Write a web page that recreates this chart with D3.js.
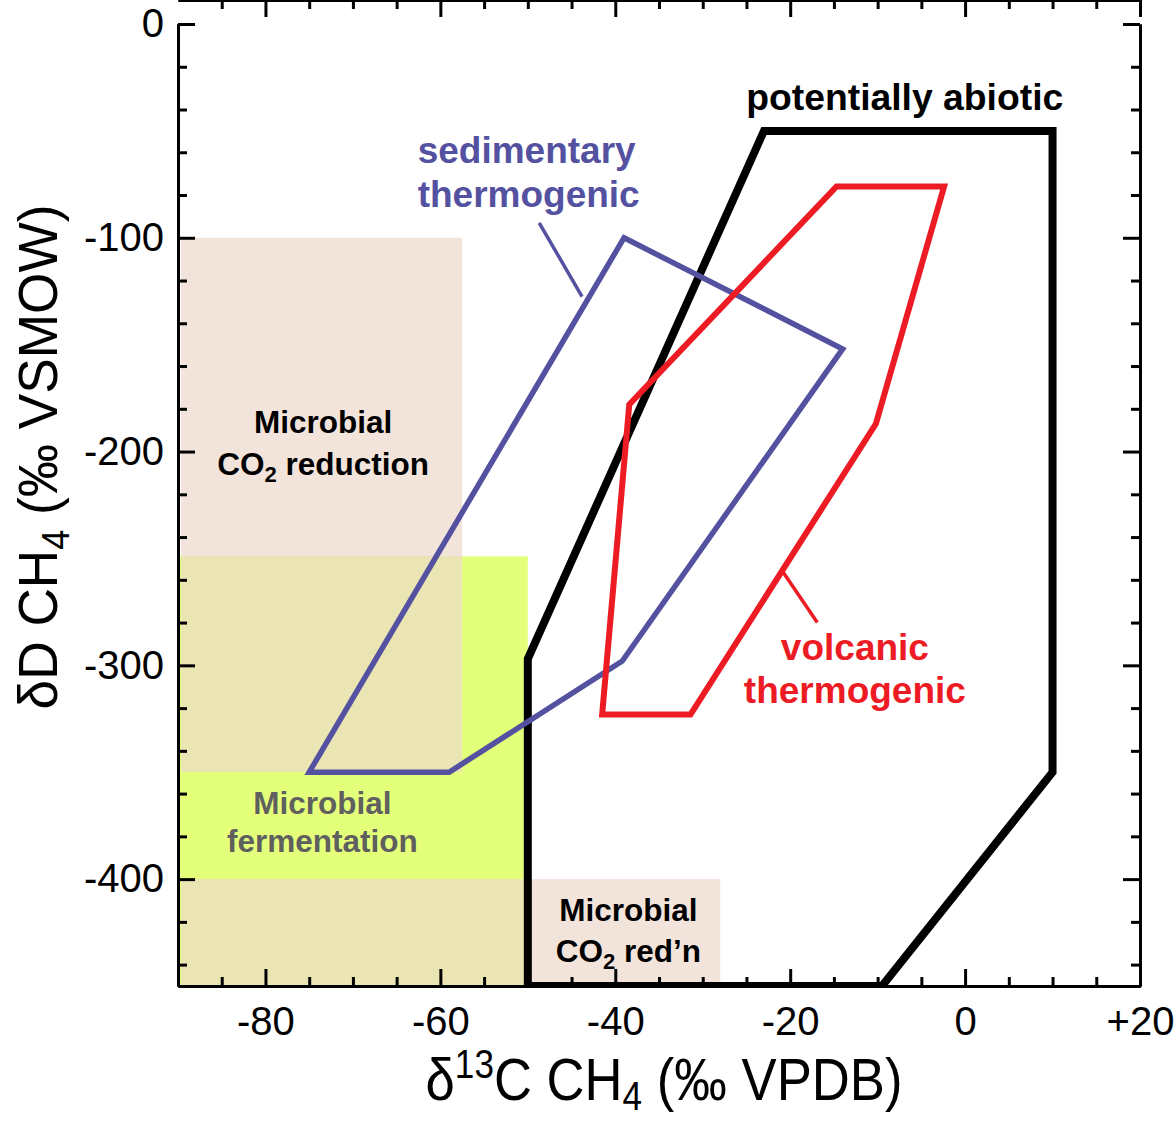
<!DOCTYPE html>
<html lang="en">
<head>
  <meta charset="UTF-8">
  <title>Methane isotopes</title>
  <script src="https://d3js.org/d3.v7.min.js"></script>
  <style>
  body{ margin:0; background:#fff; }
  svg{ display:block; font-family:"Liberation Sans", Arial, sans-serif; }
  .axis path, .axis line{ stroke:#000; stroke-width:3; }
  .axis text{ font-size:40px; fill:#000; }
  .lbl{ font-weight:bold; text-anchor:middle; }
  </style>
</head>
<body>
  <div class="container"></div>
  <script>
  // tick labels
  var xTicks = [-80, -60, -40, -20, 0, 20];
  var yTicks = [0, -100, -200, -300, -400];

  // microbial fields (boxes)
  var boxNames = ['fermentation', 'CO2 reduction', "CO2 red'n"];
  var boxX0 = [-90, -90, -90];
  var boxX1 = [-50, -57.5, -28];
  var boxY0 = [-450, -350, -450];
  var boxY1 = [-249, -100, -400];

  // outlined fields
  var abioticX = [-50, -50, -23, 10, 10, -9.5];
  var abioticY = [-450, -297, -50, -50, -350, -450];
  var sedX = [-39, -14, -39.2, -59, -75];
  var sedY = [-100, -152, -298, -350, -350];
  var volcX = [-14.7, -2.4, -10.2, -31.4, -41.5, -38.4];
  var volcY = [-76, -76, -187, -323, -323, -178];

  var w = 1176, h = 1122,
      margin = {top: 24, right: 36, bottom: 136, left: 178};

  var x = d3.scaleLinear().domain([-90, 20]).range([margin.left, w - margin.right]);
  var y = d3.scaleLinear().domain([-450, 0]).range([h - margin.bottom, margin.top]);

  var svg = d3.select('.container').append('svg')
      .attr('width', w).attr('height', h);

  svg.append('clipPath').attr('id', 'plot')
    .append('rect')
      .attr('x', x(-90)).attr('y', y(0))
      .attr('width', x(20) - x(-90)).attr('height', y(-450) - y(0));

  // boxes: green first, pink on top with some transparency
  var boxes = boxNames.map(function(n, i){
    return {name: n, x0: boxX0[i], x1: boxX1[i], y0: boxY0[i], y1: boxY1[i]};
  });
  svg.append('g').selectAll('rect').data(boxes).enter().append('rect')
      .attr('x', function(d){ return x(d.x0) + (d.name == 'fermentation' ? 0 : 3); })
      .attr('y', function(d){ return y(d.y1); })
      .attr('width', function(d){ return x(d.x1) - x(d.x0) - (d.name == 'fermentation' ? 0 : 3); })
      .attr('height', function(d){ return y(d.y0) - y(d.y1); })
      .style('fill', function(d){ return d.name == 'fermentation' ? '#e4ff7a' : '#eed9cc'; })
      .style('fill-opacity', function(d){ return d.name == 'fermentation' ? 1 : 0.7; });

  // axes, ticks pointing inwards on all four sides
  var fmt = function(d){ return d > 0 ? '+' + d : String(d); };
  var xMinor = d3.range(-85, 20, 5).filter(function(d){ return xTicks.indexOf(d) < 0; });
  var yMinor = d3.range(-440, 0, 20).filter(function(d){ return yTicks.indexOf(d) < 0; });

  function addAxis(axis, tr){
    var g = svg.append('g').attr('class', 'axis')
        .attr('transform', tr).call(axis);
    g.attr('font-size', null).attr('font-family', null);
    return g;
  }
  var bottom = 'translate(0,' + y(-450) + ')', top = 'translate(0,' + y(0) + ')',
      left = 'translate(' + x(-90) + ',0)', right = 'translate(' + x(20) + ',0)';

  addAxis(d3.axisBottom(x).tickValues(xTicks).tickSize(-17).tickSizeOuter(0).tickPadding(21).tickFormat(fmt), bottom);
  addAxis(d3.axisBottom(x).tickValues(xMinor).tickSize(-9).tickSizeOuter(0).tickFormat(''), bottom);
  addAxis(d3.axisTop(x).tickValues(xTicks).tickSize(-17).tickSizeOuter(0).tickFormat(''), top);
  addAxis(d3.axisTop(x).tickValues(xMinor).tickSize(-9).tickSizeOuter(0).tickFormat(''), top);
  addAxis(d3.axisLeft(y).tickValues(yTicks).tickSize(-17).tickSizeOuter(0).tickPadding(14).tickFormat(fmt), left);
  addAxis(d3.axisLeft(y).tickValues(yMinor).tickSize(-9).tickSizeOuter(0).tickFormat(''), left);
  addAxis(d3.axisRight(y).tickValues(yTicks).tickSize(-17).tickSizeOuter(0).tickFormat(''), right);
  addAxis(d3.axisRight(y).tickValues(yMinor).tickSize(-9).tickSizeOuter(0).tickFormat(''), right);

  // polygons
  var line = d3.line().x(function(d){ return x(d[0]); }).y(function(d){ return y(d[1]); })
      .curve(d3.curveLinearClosed);
  var polys = [
    {xs: abioticX, ys: abioticY, color: '#000', width: 8},
    {xs: sedX, ys: sedY, color: '#5452a0', width: 5.5},
    {xs: volcX, ys: volcY, color: '#ed1c24', width: 6}
  ];
  var pg = svg.append('g').attr('clip-path', 'url(#plot)');
  pg.selectAll('path').data(polys).enter().append('path')
      .attr('d', function(p){ return line(p.xs.map(function(v, i){ return [v, p.ys[i]]; })); })
      .style('fill', 'none')
      .style('stroke', function(p){ return p.color; })
      .style('stroke-width', function(p){ return p.width; })
      .style('stroke-linejoin', 'miter');

  // leader lines
  svg.append('line')
      .attr('x1', x(-48.7)).attr('y1', y(-93)).attr('x2', x(-43.8)).attr('y2', y(-127.5))
      .style('stroke', '#5452a0').style('stroke-width', 3.5);
  svg.append('line')
      .attr('x1', x(-20.8)).attr('y1', y(-256.5)).attr('x2', x(-16.9)).attr('y2', y(-280))
      .style('stroke', '#ed1c24').style('stroke-width', 3.5);

  // labels
  function label(lines, cx, cy, size, color, anchor){
    var t = svg.append('text').attr('class', 'lbl')
        .style('font-size', size + 'px').style('fill', color)
        .style('text-anchor', anchor || 'middle');
    lines.forEach(function(l, i){
      var ln = t.append('tspan').attr('x', x(cx)).attr('y', y(cy[i]));
      if (l.indexOf('CO2') == 0) {
        ln.text('CO');
        t.append('tspan').text('2').style('font-size', (size * 0.7) + 'px')
            .attr('dy', size * 0.22);
        t.append('tspan').text(l.slice(3)).attr('dy', -size * 0.22);
      } else {
        ln.text(l);
      }
    });
  }
  label(['potentially abiotic'], -6.9, [-40.2], 37.3, '#000');
  label(['sedimentary', 'thermogenic'], -62.6, [-65, -85.6], 37, '#5452a0', 'start');
  label(['volcanic', 'thermogenic'], -12.6, [-297.5, -317.7], 37, '#ed1c24');
  label(['Microbial', 'CO2 reduction'], -73.4, [-191.3, -211], 31.5, '#000');
  label(['Microbial', 'fermentation'], -73.5, [-369.6, -387.4], 31.5, '#5f5f5f');
  label(['Microbial', "CO2 red\u2019n"], -38.5, [-419.6, -438.8], 31.5, '#000');

  // axis titles
  var xt = svg.append('text').attr('x', 0).attr('y', 0)
      .style('font-size', '60px').style('text-anchor', 'middle');
  xt.append('tspan').text('\u03b4');
  xt.append('tspan').text('13').style('font-size', '40px').attr('dy', -22);
  xt.append('tspan').text('C CH').attr('dy', 22);
  xt.append('tspan').text('4').style('font-size', '40px').attr('dy', 10);
  xt.append('tspan').text(' (\u2030 VPDB)').attr('dy', -10);
  var sx = 477 / xt.node().getBBox().width;
  xt.attr('transform', 'translate(664,1100) scale(' + sx + ',1)');

  var yt = svg.append('text').attr('x', 0).attr('y', 0)
      .style('font-size', '56px').style('text-anchor', 'middle');
  yt.append('tspan').text('\u03b4D CH');
  yt.append('tspan').text('4').style('font-size', '38px').attr('dy', 12);
  yt.append('tspan').text(' (\u2030 VSMOW)').attr('dy', -12);
  var sy = 505 / yt.node().getBBox().width;
  yt.attr('transform', 'translate(57,457) rotate(-90) scale(' + sy + ',1)');
  </script>
</body>
</html>
